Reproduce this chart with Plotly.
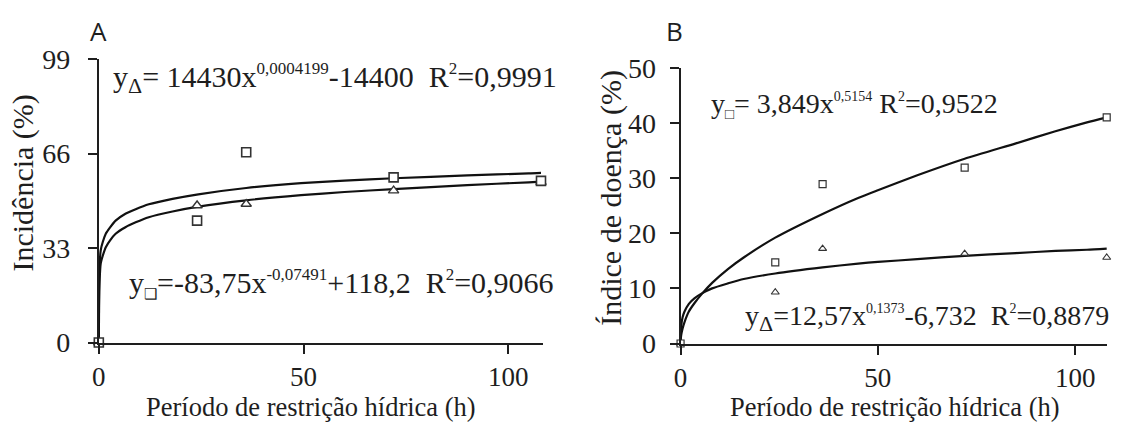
import plotly.graph_objects as go

# ---------------- data ----------------
hours = [0, 24, 36, 72, 108]

# Panel A - Incidência (%)
inc_square = [0, 42.6, 66.5, 57.7, 56.5]
inc_triangle = [0, 47.9, 48.4, 53.1, 56.0]
fitA_x = [0, 0.05, 0.2, 0.46, 1, 1.7, 2.8, 4.1, 6.5, 9, 12.2, 18, 24.3, 36, 49.4, 60, 72, 90, 105, 108]
fitA_square = [0, 18, 27, 32.2, 35.3, 38.0, 40.3, 42.6, 45.0, 46.6, 48.3, 50.2, 51.8, 54.0, 55.7, 56.6, 57.4, 58.4, 59.1, 59.3]
fitA_triangle = [0, 12, 22, 27.6, 30.5, 33.3, 35.8, 38.0, 40.3, 42.0, 43.8, 45.8, 47.5, 49.7, 51.5, 52.6, 53.6, 55.0, 56.0, 56.2]

# Panel B - Índice de doença (%)
idx_square = [0, 14.7, 28.9, 31.9, 41.0]
idx_triangle = [0, 9.3, 17.2, 16.3, 15.6]
fitB_x = [0, 0.02, 0.05, 0.2, 0.5, 1, 2.1, 3.5, 5.4, 8, 12, 16, 24, 36, 45, 50, 60, 72, 85, 95, 103, 108]
fitB_square = [0, 0.5, 0.9, 1.7, 2.7, 3.9, 5.8, 7.3, 9.0, 11.0, 13.5, 15.6, 19.2, 23.5, 26.4, 27.8, 30.5, 33.5, 36.3, 38.5, 40.1, 41.0]
fitB_triangle = [0, 0.6, 1.6, 3.4, 4.7, 5.8, 7.2, 8.2, 9.1, 10.0, 10.9, 11.7, 12.7, 13.8, 14.5, 14.8, 15.3, 15.9, 16.4, 16.8, 17.0, 17.2]

yticksA = [0, 33, 66, 99]
yticksB = [0, 10, 20, 30, 40, 50]
xticks = [0, 50, 100]

W, H = 1122, 439
SERIF = "Liberation Serif"
SANS = "Open Sans"
INK = "#1e1e1e"

# positions below are given in reference-picture pixels; the photographed page
# shows the figure slightly squeezed vertically and shifted, so map them here
def ty(d):
    return (d - 13.7) / 0.933

def px(d):
    return (d - 4) / W

def py(d):
    return 1 - ty(d) / H

fig = go.Figure()

line_style = dict(color="#111111", width=2.2)
for xs, ys, xa, ya in [
    (fitA_x, fitA_square, "x", "y"),
    (fitA_x, fitA_triangle, "x", "y"),
    (fitB_x, fitB_square, "x2", "y2"),
    (fitB_x, fitB_triangle, "x2", "y2"),
]:
    fig.add_trace(go.Scatter(x=xs, y=ys, mode="lines", line=dict(line_style, shape="spline", smoothing=0.6),
                             xaxis=xa, yaxis=ya, showlegend=False, hoverinfo="skip", cliponaxis=False))

def markers(ys, symbol, size, xa, ya, lw):
    fig.add_trace(go.Scatter(x=hours, y=ys, mode="markers",
                             marker=dict(symbol=symbol, size=size, color="white",
                                         line=dict(color="#333333", width=lw)),
                             xaxis=xa, yaxis=ya, showlegend=False, cliponaxis=False))

markers(inc_triangle, "triangle-up", 9, "x", "y", 1.4)
markers(inc_square, "square", 9, "x", "y", 1.6)
markers(idx_triangle, "triangle-up", 7, "x2", "y2", 1.1)
markers(idx_square, "square", 7, "x2", "y2", 1.2)

axis_common = dict(showline=True, linecolor=INK, linewidth=2, ticks="outside", ticklen=9,
                   tickwidth=2, tickcolor=INK, showgrid=False, zeroline=False)
xtick_font = dict(family=SERIF, size=27, color=INK)
ytick_font = dict(family=SERIF, size=28, color=INK)

# geometry in reference pixels
A_left, A_right, A_top, A_bot = 96.4, 543.0, 58.1, 342.5
B_left, B_right, B_top, B_bot = 681.8, 1111.0, 66.7, 343.5

fig.update_layout(
    width=W, height=H, margin=dict(l=0, r=0, t=0, b=0),
    paper_bgcolor="white", plot_bgcolor="white",
    font=dict(family=SERIF),
    xaxis=dict(axis_common, domain=[px(A_left), px(A_right)], range=[0, 108.4],
               tickvals=xticks, anchor="y", ticklabelstandoff=0, tickfont=xtick_font),
    yaxis=dict(axis_common, domain=[py(A_bot), py(A_top)], range=[0, 99],
               tickvals=yticksA, anchor="x", ticklabelstandoff=12, tickfont=ytick_font),
    xaxis2=dict(axis_common, domain=[px(B_left), px(B_right)], range=[0, 108.1],
                tickvals=xticks, anchor="y2", ticklabelstandoff=0, tickfont=xtick_font),
    yaxis2=dict(axis_common, domain=[py(B_bot), py(B_top)], range=[0, 50],
                tickvals=yticksB, anchor="x2", ticklabelstandoff=8, tickfont=ytick_font),
)

def note(text, x, y, size=29, xanchor="left", yanchor="middle", angle=0, family=SERIF, bottom=False):
    yy = 0 if bottom else py(y)
    fig.add_annotation(text=text, x=px(x), y=yy, xref="paper", yref="paper",
                       xanchor=xanchor, yanchor="bottom" if bottom else yanchor,
                       showarrow=False, textangle=angle, borderpad=0,
                       font=dict(family=family, size=size, color=INK))

SUP = '<sup><span style="font-size:17px">{}</span></sup>'
SUPS = '<sup><span style="font-size:14px">{}</span></sup>'
SUB = '<sub><span style="font-size:22px">{}</span></sub>'
SUBSQ = '<sub><span style="font-size:15px">{}</span></sub>'
NB = "\u00a0"

# Panel labels
note("A", 87, 30, size=26, family=SANS)
note("B", 666, 30, size=26, family=SANS)

# Equations panel A
note("y" + SUB.format("Δ") + "= 14430x" + SUP.format("0,0004199") + "-14400" + NB * 2 +
     "R" + SUP.format("2") + "=0,9991", 110, 77, size=30)
note("y" + SUBSQ.format("❑") + "=-83,75x" + SUP.format("-0,07491") + "+118,2" + NB * 2 +
     "R" + SUP.format("2") + "=0,9066", 126, 283, size=30)

# Equations panel B
note("y" + SUBSQ.format("□") + "= 3,849x" + SUPS.format("0,5154") + " R" + SUPS.format("2") + "=0,9522",
     711, 104, size=28)
note("y" + SUB.format("Δ") + "=12,57x" + SUPS.format("0,1373") + "-6,732" + NB * 2 +
     "R" + SUPS.format("2") + "=0,8879", 746, 318, size=28)

# Axis titles
note("Incidência (%)", 20, 182, size=30, xanchor="center", angle=-90)
note("Período de restrição hídrica (h)", 309.5, 0, size=26.5, xanchor="center", bottom=True)
note("Índice de doença (%)", 611, 197, size=30, xanchor="center", angle=-90)
note("Período de restrição hídrica (h)", 897.5, 0, size=26.5, xanchor="center", bottom=True)

fig.write_html("out.html")
